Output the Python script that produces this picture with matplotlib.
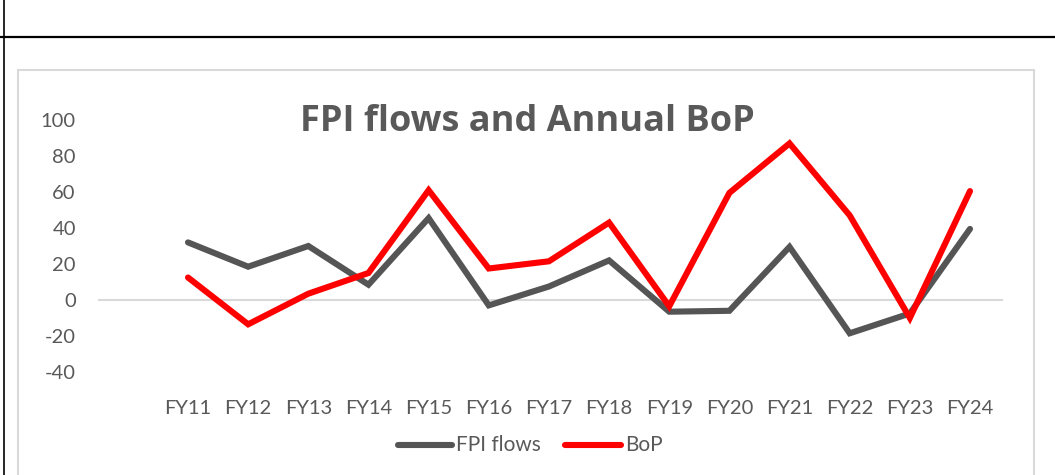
import matplotlib
matplotlib.use("Agg")
import matplotlib.pyplot as plt
from matplotlib.lines import Line2D
from matplotlib.patches import Rectangle

categories = ["FY11", "FY12", "FY13", "FY14", "FY15", "FY16", "FY17",
              "FY18", "FY19", "FY20", "FY21", "FY22", "FY23", "FY24"]
fpi_flows = [32, 18.5, 30, 8.5, 45.5, -3, 7.5, 22, -6.5, -6, 29.5, -18.5, -7.5, 39.5]
bop = [12.5, -13.5, 3.5, 15, 61, 17.5, 21.5, 43, -3.5, 59.5, 87, 47, -10, 60.5]
yticks = [-40, -20, 0, 20, 40, 60, 80, 100]
series_names = ["FPI flows", "BoP"]

W, H = 1055, 475
fig = plt.figure(figsize=(W / 100, H / 100), dpi=100)
plt.rcParams['font.family'] = ['Lato', 'DejaVu Sans']

def fx(px):
    return px / W

def fy(py):
    return 1 - py / H

# page borders
fig.add_artist(Line2D([0, 1], [fy(37), fy(37)], color="black", lw=1.6, transform=fig.transFigure))
fig.add_artist(Line2D([fx(3.5), fx(3.5)], [0, 1], color="black", lw=1.2, transform=fig.transFigure))
# chart area border
fig.add_artist(Rectangle((fx(18), fy(480)), fx(1034) - fx(18), fy(70) - fy(480),
                         fill=False, edgecolor="#d9d9d9", lw=1.5, transform=fig.transFigure))

# axes: x from 98 to 1003 px, y 100 at 120 px, -40 at 372 px
ax = fig.add_axes([fx(98), fy(372), fx(1003) - fx(98), fy(120) - fy(372)])
spacing = (970 - 188) / 13
x = list(range(len(categories)))
ax.set_xlim(-(188 - 98) / spacing, 13 + (1003 - 970) / spacing)
ax.set_ylim(-40, 100)
ax.patch.set_alpha(0)
for s in ax.spines.values():
    s.set_visible(False)

ax.axhline(0, color="#d9d9d9", lw=1.5, zorder=1)
gray = "#555555"
red = "#ff0000"
lw = 4.4
ax.plot(x, fpi_flows, color=gray, lw=lw, solid_capstyle="round", solid_joinstyle="miter", zorder=3, clip_on=False)
ax.plot(x, bop, color=red, lw=lw, solid_capstyle="round", solid_joinstyle="miter", zorder=4, clip_on=False)

ax.set_yticks(yticks)
ax.set_yticklabels([str(v) for v in yticks])
ax.tick_params(axis="y", length=0, pad=16, labelsize=14.5, labelcolor="#595959")
ax.set_xticks(x)
ax.set_xticklabels(categories)
ax.tick_params(axis="x", length=0, pad=20, labelsize=14.5, labelcolor="#595959")

fig.text(fx(527), fy(131), "FPI flows and Annual BoP", ha="center", va="baseline",
         fontsize=26, fontweight="bold", color="#595959", family=["Open Sans", "DejaVu Sans"])

# legend (manual placement)
leg_y = fy(445)
for (x0, x1, tx), name, col in zip([(398, 452, 456), (565, 621, 625)], series_names, [gray, red]):
    fig.add_artist(Line2D([fx(x0), fx(x1)], [leg_y, leg_y], color=col, lw=lw,
                          solid_capstyle="round", transform=fig.transFigure))
    fig.text(fx(tx), leg_y, name, ha="left", va="center", fontsize=15, color="#595959")

fig.savefig("out.png", dpi=100)
